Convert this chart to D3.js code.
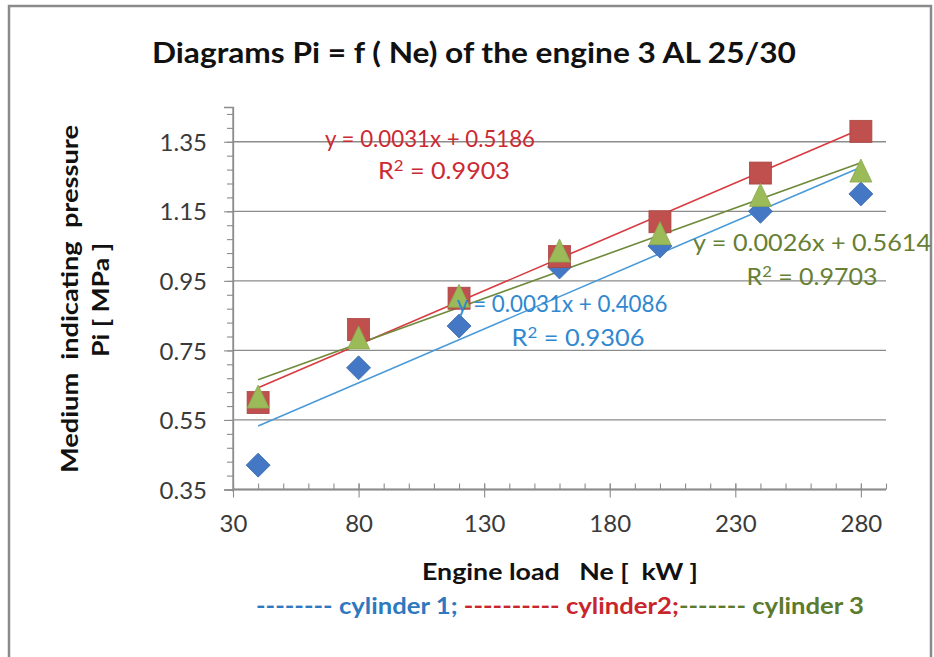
<!DOCTYPE html>
<html><head><meta charset="utf-8">
<script src="https://cdn.jsdelivr.net/npm/d3@7"></script>
<style>
body{margin:0;background:#fff;}
svg{display:block;font-family:Lato,"Open Sans",sans-serif;}
svg text{white-space:pre;}
</style></head>
<body><svg id="c" width="934" height="657"></svg>
<script>
const loads = [40, 80, 120, 160, 200, 240, 280];
const cyl1 = [0.42, 0.70, 0.82, 0.99, 1.05, 1.15, 1.20];
const cyl2 = [0.60, 0.81, 0.90, 1.02, 1.12, 1.26, 1.38];
const cyl3 = [0.61, 0.78, 0.90, 1.03, 1.08, 1.19, 1.26];
const xTicks = [30, 80, 130, 180, 230, 280];
const yTicks = [0.35, 0.55, 0.75, 0.95, 1.15, 1.35];
const trend1 = {slope: 0.0031, intercept: 0.4086, eq: "y = 0.0031x + 0.4086", r2: "0.9306"};
const trend2 = {slope: 0.0031, intercept: 0.5186, eq: "y = 0.0031x + 0.5186", r2: "0.9903"};
const trend3 = {slope: 0.0026, intercept: 0.5614, eq: "y = 0.0026x + 0.5614", r2: "0.9703"};

const svg = d3.select("#c");
// frame
svg.append("rect").attr("x",9).attr("y",6).attr("width",922).attr("height",660)
  .attr("fill","none").attr("stroke","#8a8a8a").attr("stroke-width",2.5);

const x = d3.scaleLinear().domain([30, 290]).range([233, 886]);
const y = d3.scaleLinear().domain([0.35, 1.45]).range([489.5, 107]);

// gridlines
svg.append("g").selectAll("line").data(yTicks).join("line")
  .attr("x1",233).attr("x2",886).attr("y1",d=>y(d)).attr("y2",d=>y(d))
  .attr("stroke","#8c8c8c").attr("stroke-width",1.3);

// y axis
const yMinor = d3.range(0, 28).map(i => 0.35 + i*0.04).filter(v => v <= 1.451);
const gy = svg.append("g").attr("transform","translate(233,0)");
gy.call(d3.axisLeft(y).tickValues(yMinor).tickSize(6).tickFormat(""));
gy.append("g").call(d3.axisLeft(y).tickValues(yTicks).tickSize(9).tickFormat(d3.format(".2f")));
gy.selectAll(".domain").attr("stroke","#8c8c8c").attr("stroke-width",1.3);
gy.selectAll(".tick line").attr("stroke","#8c8c8c").attr("stroke-width",1.1);
gy.selectAll(".tick text").style("font-size","24px").attr("fill","#3a3a3a").attr("x",-26).attr("dy","0.36em")
  .style("font-family","Lato,sans-serif");
gy.select(".domain").attr("d","M0,"+y(1.45)+"V"+(y(0.35)+2));

// x axis
const xMinor = d3.range(30, 291, 10);
const gx = svg.append("g").attr("transform","translate(0,"+y(0.35)+")");
gx.call(d3.axisTop(x).tickValues(xMinor).tickSize(6).tickFormat(""));
const gxMaj = gx.append("g").call(d3.axisBottom(x).tickValues(xTicks).tickSize(8).tickFormat(d3.format("d")));
gxMaj.selectAll(".tick line").attr("y1",-6);
gx.selectAll(".domain").attr("stroke","#8c8c8c").attr("stroke-width",1.3);
gx.selectAll(".tick line").attr("stroke","#8c8c8c").attr("stroke-width",1.1);
gx.selectAll(".tick text").style("font-size","24px").attr("fill","#3a3a3a").attr("y",25)
  .style("font-family","Lato,sans-serif");
gx.selectAll(".domain").attr("d","M"+x(30)+",0H"+x(290));

// trendlines
const trends = [
  {t: trend2, color: "#d83a40"},
  {t: trend3, color: "#6f8a3a"},
  {t: trend1, color: "#4a9ad8"}
];
const line = d3.line().x(d=>x(d[0])).y(d=>y(d[1]));
trends.forEach(o => {
  const ends = [loads[0], loads[loads.length-1]].map(v => [v, o.t.slope*v + o.t.intercept]);
  svg.append("path").attr("d", line(ends)).attr("stroke", o.color).attr("stroke-width",1.6).attr("fill","none");
});

// markers
const pts = (arr) => loads.map((l,i)=>[l, arr[i]]);
svg.append("g").selectAll("path").data(pts(cyl1)).join("path")
  .attr("transform",d=>`translate(${x(d[0])},${y(d[1])})`)
  .attr("d","M0,-12L12,0L0,12L-12,0Z").attr("fill","#4478c4").attr("stroke","#3a69ad").attr("stroke-width",0.8);
svg.append("g").selectAll("rect").data(pts(cyl2)).join("rect")
  .attr("x",d=>x(d[0])-11).attr("y",d=>y(d[1])-11).attr("width",22).attr("height",22)
  .attr("fill","#c0504d").attr("stroke","#a84542").attr("stroke-width",0.8);
svg.append("g").selectAll("path").data(pts(cyl3)).join("path")
  .attr("transform",d=>`translate(${x(d[0])},${y(d[1])})`)
  .attr("d","M0,-14L11,9L-11,9Z").attr("fill","#9bbb59").attr("stroke","#8aa84e").attr("stroke-width",0.8);

// equation labels
function eqLabel(t, cx1, by1, w1, cx2, by2, w2, color){
  svg.append("text").attr("x",cx1).attr("y",by1).attr("text-anchor","middle").attr("font-size",24)
    .attr("fill",color).attr("textLength",w1).attr("lengthAdjust","spacingAndGlyphs").text(t.eq);
  const r = svg.append("text").attr("x",cx2).attr("y",by2).attr("text-anchor","middle").attr("font-size",24)
    .attr("fill",color).attr("textLength",w2).attr("lengthAdjust","spacingAndGlyphs");
  r.append("tspan").text("R");
  r.append("tspan").attr("font-size",16).attr("dy",-8).text("2");
  r.append("tspan").attr("dy",8).text(" = " + t.r2);
}
eqLabel(trend2, 430, 147, 210, 444, 179, 132, "#cc2a32");
eqLabel(trend3, 812, 251, 238, 812, 285, 131, "#667f34");
eqLabel(trend1, 562, 312, 211, 578, 346, 133, "#2f88d0");

// title
svg.append("text").attr("x",474).attr("y",63).attr("text-anchor","middle").attr("font-size",29)
  .attr("font-weight","bold").attr("fill","#111").attr("textLength",644).attr("lengthAdjust","spacingAndGlyphs")
  .text("Diagrams Pi = f ( Ne) of the engine 3 AL 25/30");

// axis titles
svg.append("text").attr("transform","translate(78,299) rotate(-90)").attr("text-anchor","middle")
  .attr("font-size",22).attr("font-weight","bold").attr("fill","#111")
  .attr("textLength",348).attr("lengthAdjust","spacingAndGlyphs").text("Medium  indicating  pressure");
svg.append("text").attr("transform","translate(109,300) rotate(-90)").attr("text-anchor","middle")
  .attr("font-size",22).attr("font-weight","bold").attr("fill","#111")
  .attr("textLength",114).attr("lengthAdjust","spacingAndGlyphs").text("Pi [ MPa ]");
svg.append("text").attr("x",560).attr("y",580).attr("text-anchor","middle")
  .attr("font-size",22).attr("font-weight","bold").attr("fill","#111")
  .attr("textLength",276).attr("lengthAdjust","spacingAndGlyphs").text("Engine load   Ne [  kW ]");

// legend
const legend = [
  {dash: "--------", label: "cylinder 1; ", color: "#2e78c0"},
  {dash: "----------", label: "cylinder2;", color: "#c8252c"},
  {dash: "-------", label: "cylinder 3", color: "#5b7a2c"}
];
const lt = svg.append("text").attr("x",256).attr("y",614).attr("font-size",22).attr("font-weight","bold")
  .attr("textLength",608).attr("lengthAdjust","spacingAndGlyphs");
legend.forEach((l,i) => {
  lt.append("tspan").attr("fill",l.color).text(l.dash + " " + l.label);
});
</script></body></html>
